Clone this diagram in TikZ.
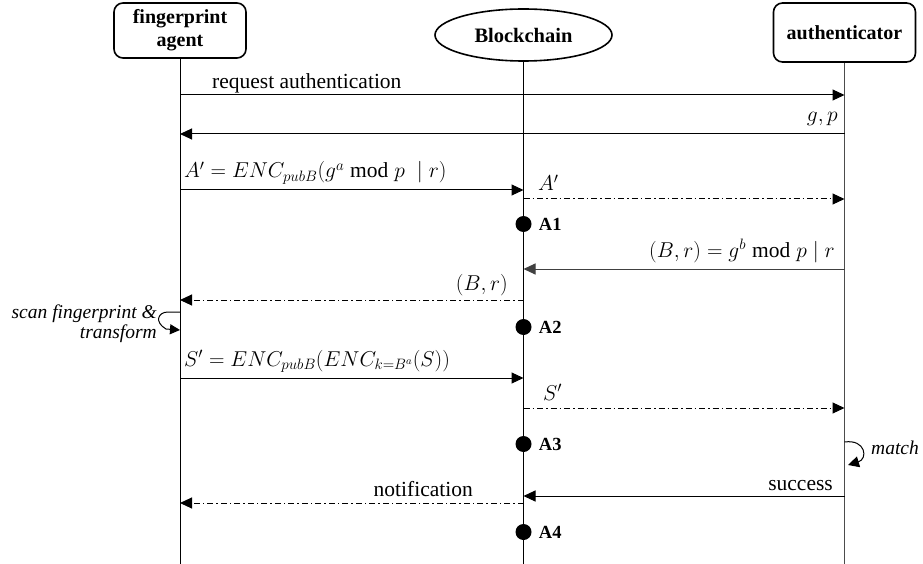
\documentclass[tikz,border=0pt]{standalone}
\usepackage{fix-cm}
\usepackage{fontspec}
\setmainfont{Liberation Serif}
\usetikzlibrary{arrows.meta,shapes.geometric}

\tikzset{
  actor/.style={draw, line width=1.6pt, rounded corners=9pt, align=center,
    inner sep=0pt, font=\fontsize{20}{23}\selectfont\bfseries},
  lifeline/.style={line width=1pt},
  msg/.style={line width=1pt, -{Triangle[length=12pt,width=11pt]}},
  reply/.style={msg, dash pattern=on 6pt off 3pt on 1.5pt off 3pt},
  lbl/.style={inner sep=0pt, font=\fontsize{21.5}{23}\selectfont},
  ilbl/.style={inner sep=0pt, font=\fontsize{19.5}{20}\selectfont\itshape},
  stamp/.style={circle, fill=black, minimum size=16pt, inner sep=0pt},
  stamplbl/.style={inner sep=0pt, anchor=west, font=\fontsize{18.5}{20}\selectfont\bfseries},
}

\begin{document}
\begin{tikzpicture}[x=1pt, y=-1pt]
\useasboundingbox (0,0) rectangle (923,564);

% participants
\node[actor, minimum width=132pt, minimum height=55pt] (agent) at (180,30.5) {fingerprint\\agent};
\node[draw, ellipse, line width=1.6pt, minimum width=177pt, minimum height=52pt,
      inner sep=0pt, font=\fontsize{20.5}{21}\selectfont\bfseries] (chain) at (523.5,35) {Blockchain};
\node[actor, minimum width=142pt, minimum height=59pt] (auth) at (844.5,32.5) {authenticator};

% lifelines
\coordinate (agentEnd) at (agent |- 0,564);
\coordinate (chainEnd) at (chain |- 0,564);
\coordinate (authEnd) at (auth |- 0,564);
\draw[lifeline] (agent.south) -- (agentEnd);
\draw[lifeline] (chain.south) -- (chainEnd);
\draw[lifeline, draw=black!70] (auth.south) -- (authEnd);

% messages
\draw[msg] (agent |- 0,95) -- (auth |- 0,95);
\node[lbl, anchor=base west] (m1) at (212,89) {request authentication};

\draw[msg] (auth |- 0,134) -- (agent |- 0,134);
\node[lbl, anchor=base east] (m2) at (838,122) {$g,p$};

\draw[msg] (agent |- 0,190) -- (chain |- 0,190);
\node[lbl, anchor=base west] (m3) at (184,178) {$A' = ENC_{pubB}(g^a \bmod p\;\mid r)$};

\draw[reply] (chain |- 0,199) -- (auth |- 0,199);
\node[lbl, anchor=base west] (m4) at (538,191) {$A'$};

\node[stamp] (a1) at (chain |- 0,224) {};
\node[stamplbl] (a1l) at ([xshift=7pt]a1.east) {A1};

\draw[msg, draw=black!75] (auth |- 0,269) -- (chain |- 0,269);
\node[lbl, anchor=base east] (m5) at (835,257) {$(B,r) = g^b \bmod p \mid r$};

\draw[reply] (chain |- 0,300) -- (agent |- 0,300);
\node[lbl, anchor=base east] (m6) at (508,290) {$(B,r)$};

% local step of the fingerprint agent
\draw[line width=1pt, -{Triangle[length=10pt,width=10pt]}]
  (agent |- 0,312) -- (168,312) .. controls (158,312) and (154,322) .. (166,329) -- (agent |- 0,330);
\node[ilbl, anchor=east, align=right] (scan) at (157,324) {scan fingerprint \&\\transform};

\node[stamp] (a2) at (chain |- 0,327) {};
\node[stamplbl] (a2l) at ([xshift=7pt]a2.east) {A2};

\draw[msg] (agent |- 0,378) -- (chain |- 0,378);
\node[lbl, anchor=base west] (m7) at (184,366) {$S' = ENC_{pubB}\bigl(ENC_{k=B^a}(S)\bigr)$};

\draw[reply] (chain |- 0,408) -- (auth |- 0,408);
\node[lbl, anchor=base west] (m8) at (543,400) {$S'$};

\node[stamp] (a3) at (chain |- 0,444) {};
\node[stamplbl] (a3l) at ([xshift=7pt]a3.east) {A3};

% local step of the authenticator
\draw[line width=1pt, -{Triangle[length=11pt,width=11pt]}]
  (auth |- 0,442) .. controls (866,439) and (868,459) .. (848,465);
\node[ilbl, anchor=west] (match) at (871,448) {match};

\draw[msg] (auth |- 0,496) -- (chain |- 0,496);
\node[lbl, anchor=base east] (m9) at (833,490) {success};

\draw[reply] (chain |- 0,503) -- (agent |- 0,503);
\node[lbl, anchor=base east] (m10) at (473,496) {notification};

\node[stamp] (a4) at (chain |- 0,532) {};
\node[stamplbl] (a4l) at ([xshift=7pt]a4.east) {A4};
\end{tikzpicture}
\end{document}
